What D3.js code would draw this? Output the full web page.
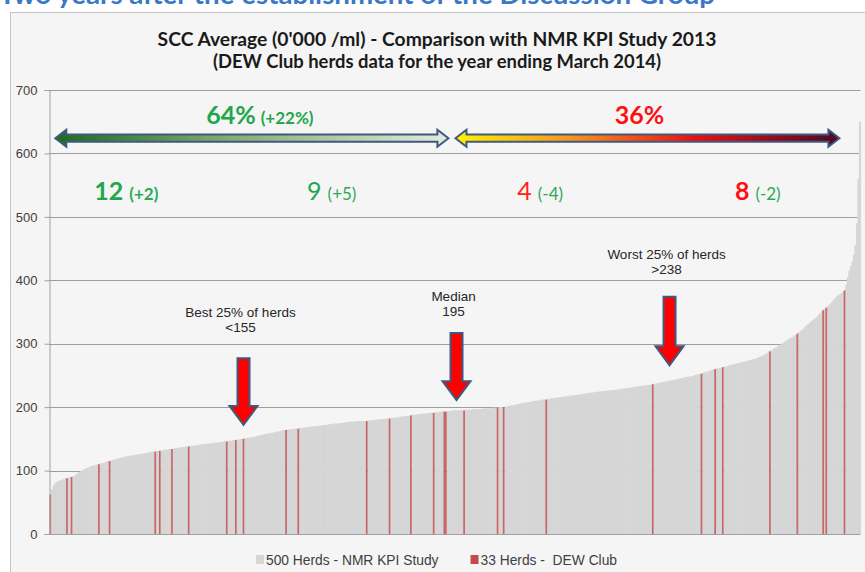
<!DOCTYPE html>
<html>
<head>
<meta charset="utf-8">
<script src="https://cdn.jsdelivr.net/npm/d3@7"></script>
<style>
  html, body { margin: 0; padding: 0; background: #ffffff; }
  svg { display: block; }
</style>
</head>
<body>
<svg id="chart" width="865" height="572"></svg>
<script>
// SCC averages (0'000 /ml) of the 500 NMR KPI study herds, sorted ascending
const nmrHerds = [
  70,76,80,82,83,84,85,86,87,88,89,90,91,92,94,96,98,99,100,102,
  103,104,105,106,107,108,108,109,110,111,112,112,113,114,115,116,117,117,118,119,
  119,120,121,121,122,122,123,123,124,124,124,125,125,126,126,126,127,127,128,128,
  129,129,130,130,131,131,132,132,133,133,133,134,134,135,135,135,136,136,137,137,
  137,138,138,139,139,139,140,140,140,141,141,141,142,142,142,142,143,143,143,144,
  144,144,145,145,145,146,146,147,147,147,148,148,149,149,150,150,151,151,152,152,
  152,153,153,154,155,155,156,156,157,157,158,158,159,159,160,160,161,161,162,162,
  163,164,164,165,165,165,165,166,166,166,167,167,167,168,168,168,169,169,169,170,
  170,170,170,171,171,171,172,172,172,173,173,173,174,174,174,174,175,175,175,176,
  176,176,177,177,177,177,177,178,178,178,178,178,178,178,179,179,179,179,180,180,
  180,181,181,181,181,182,182,182,183,183,183,184,184,184,185,185,185,186,186,186,
  187,188,188,188,189,189,189,189,190,190,190,190,191,191,191,192,192,192,193,193,
  193,194,194,194,194,195,195,195,195,195,195,195,196,196,196,196,196,197,197,197,
  197,197,197,198,198,198,198,198,198,199,199,199,199,200,200,200,201,201,202,202,
  203,203,204,204,205,205,206,206,207,207,207,208,208,209,209,210,210,210,211,211,
  212,212,212,213,213,214,214,214,215,215,215,216,216,216,217,217,217,218,218,218,
  219,219,219,220,220,220,221,221,222,222,222,223,223,223,224,224,224,225,225,225,
  225,226,226,226,226,227,227,227,227,228,228,229,229,229,230,230,230,231,231,232,
  232,232,233,233,233,234,234,234,235,235,235,236,237,237,238,238,239,239,240,240,
  241,241,242,242,243,243,244,244,245,245,246,246,247,247,248,248,249,249,250,251,
  251,252,252,254,255,255,256,257,258,259,260,261,261,262,262,264,264,265,266,266,
  267,267,268,269,269,270,271,271,272,272,273,274,274,275,276,276,277,278,279,280,
  281,282,284,285,288,290,291,293,294,296,297,299,300,302,304,305,307,308,310,311,
  313,314,318,320,322,324,327,329,331,333,335,337,339,341,343,346,348,351,355,359,
  362,364,367,370,373,375,377,378,380,382,393,405,415,422,430,440,455,490,560,650
];

// SCC averages of the 33 DEW Club herds
const clubHerds = [
  62,88,90,110,115,130,131,134,138,146,148,150,
  164,166,178,182,187,191,193,193,195,
  199,200,212,236,
  253,260,263,288,316,353,357,384
];

const yTicks = [0, 100, 200, 300, 400, 500, 600, 700];

const titleLines = [
  { text: "SCC Average (0'000 /ml) - Comparison with NMR KPI Study 2013", size: 19.3 },
  { text: "(DEW Club herds data for the year ending March 2014)", size: 18.4 }
];

const legendItems = [
  { label: "500 Herds - NMR KPI Study", club: false },
  { label: "33 Herds -  DEW Club", club: true }
];

// quartile markers: rank in the combined list, arrow tail / tip and label height in SCC units
const markers = [
  { lines: ["Best 25% of herds", "<155"], rank: 127, tail: 277, tip: 172, label: 342 },
  { lines: ["Median", "195"], rank: 267, tail: 317, tip: 211, label: 368 },
  { lines: ["Worst 25% of herds", ">238"], rank: 407, tail: 374, tip: 266, label: 434 }
];

// share of club herds in the two halves, and counts per quartile (change vs previous year)
const halves = [
  { pct: "64%", change: "(+22%)", from: 2, to: 261, colour: "#22a64c", grad: "gGreen" },
  { pct: "36%", change: "", from: 265, to: 518, colour: "#ff1010", grad: "gHeat" }
];
const quartiles = [
  { count: "12", change: "(+2)", rank: 50, countColour: "#22a64c", bold: true },
  { count: "9", change: "(+5)", rank: 185, countColour: "#22a64c", bold: false },
  { count: "4", change: "(-4)", rank: 322, countColour: "#ff2020", bold: false },
  { count: "8", change: "(-2)", rank: 465, countColour: "#ff1010", bold: true }
];

const svg = d3.select("#chart");

// heading of the page, running above the chart frame
svg.append("text")
  .attr("x", -1).attr("y", 4)
  .attr("font-family", "Lato, 'Open Sans', sans-serif")
  .attr("font-weight", "bold")
  .attr("font-size", 26)
  .attr("textLength", 716)
  .attr("lengthAdjust", "spacingAndGlyphs")
  .attr("fill", "#3b78c6")
  .text("Two years after the establishment of the Discussion Group");

// chart frame
svg.append("rect")
  .attr("x", 10.5).attr("y", 12.5)
  .attr("width", 870).attr("height", 570)
  .attr("fill", "#f5f5f5")
  .attr("stroke", "#c4c4c4");

// combined ranking of both herd groups
const herds = nmrHerds.map(v => ({ v, club: false }))
  .concat(clubHerds.map(v => ({ v, club: true })))
  .sort((a, b) => a.v - b.v)
  .map((d, i) => ({ ...d, i }));

const x = d3.scaleBand()
  .domain(d3.range(herds.length))
  .range([49.5, 860.5])
  .padding(0);

const y = d3.scaleLinear().domain([0, 700]).range([534, 90]);

const xr = i => x(i) + x.bandwidth() / 2;

// gridlines
svg.append("g")
  .selectAll("line")
  .data(yTicks.slice(1))
  .join("line")
  .attr("x1", 49).attr("x2", 860.5)
  .attr("y1", d => Math.round(y(d)) + 0.5)
  .attr("y2", d => Math.round(y(d)) + 0.5)
  .attr("stroke", "#9d9d9d")
  .attr("stroke-width", 1.2);

// bars
svg.append("g")
  .selectAll("rect")
  .data(herds.filter(d => !d.club))
  .join("rect")
  .attr("x", d => x(d.i))
  .attr("width", x.bandwidth() + 0.6)
  .attr("y", d => y(d.v))
  .attr("height", d => y(0) - y(d.v))
  .attr("fill", "#d6d6d6");

svg.append("g")
  .selectAll("rect")
  .data(herds.filter(d => d.club))
  .join("rect")
  .attr("x", d => x(d.i) - 0.1)
  .attr("width", x.bandwidth() + 0.2)
  .attr("y", d => y(d.v))
  .attr("height", d => y(0) - y(d.v))
  .attr("fill", "#c24a4a")
  .attr("opacity", 0.82);

// y axis
const yAxis = d3.axisLeft(y).tickValues(yTicks).tickSize(5).tickPadding(7);
const ya = svg.append("g").attr("transform", "translate(49.5,0)").call(yAxis);
ya.select(".domain").attr("stroke", "#a0a0a0");
ya.selectAll(".tick line").attr("stroke", "#a0a0a0");
ya.selectAll(".tick text")
  .attr("font-family", "'Liberation Sans', Arial, sans-serif")
  .attr("font-size", 13)
  .attr("fill", "#404040");

// x axis baseline
svg.append("line")
  .attr("x1", 49).attr("x2", 860.5)
  .attr("y1", y(0) + 0.5).attr("y2", y(0) + 0.5)
  .attr("stroke", "#a0a0a0");

// chart title
svg.append("g")
  .selectAll("text")
  .data(titleLines)
  .join("text")
  .attr("x", 437)
  .attr("y", (d, i) => 46 + i * 22)
  .attr("text-anchor", "middle")
  .attr("font-family", "Lato, 'Open Sans', sans-serif")
  .attr("font-weight", "bold")
  .attr("font-size", d => d.size)
  .attr("fill", "#1a1a1a")
  .text(d => d.text);

// gradients for the two range arrows
const defs = svg.append("defs");
const gGreen = defs.append("linearGradient").attr("id", "gGreen");
[[0, "#1c6a20"], [0.45, "#86ad73"], [1, "#e4ebdc"]].forEach(([o, c]) =>
  gGreen.append("stop").attr("offset", o).attr("stop-color", c));
const gHeat = defs.append("linearGradient").attr("id", "gHeat");
[[0, "#fff200"], [0.3, "#f7941d"], [0.62, "#ee1010"], [1, "#4a0a22"]].forEach(([o, c]) =>
  gHeat.append("stop").attr("offset", o).attr("stop-color", c));

function doubleArrow(x0, x1, cy) {
  const h = 3.6, H2 = 8.5, L = 11;
  return `M${x0},${cy} L${x0 + L},${cy - H2} L${x0 + L},${cy - h} L${x1 - L},${cy - h}` +
    ` L${x1 - L},${cy - H2} L${x1},${cy} L${x1 - L},${cy + H2} L${x1 - L},${cy + h}` +
    ` L${x0 + L},${cy + h} L${x0 + L},${cy + H2} Z`;
}

const arrowY = y(624);
halves.forEach(hf => {
  const x0 = xr(hf.from) + 2, x1 = xr(hf.to) + 1;
  svg.append("path")
    .attr("d", doubleArrow(x0, x1, arrowY))
    .attr("fill", `url(#${hf.grad})`)
    .attr("stroke", "#3f5a80")
    .attr("stroke-width", 2)
    .attr("stroke-linejoin", "miter");
  const t = svg.append("text")
    .attr("x", (x0 + x1) / 2 + (hf.change ? 8 : -8))
    .attr("y", y(646))
    .attr("text-anchor", "middle")
    .attr("font-family", "Lato, 'Open Sans', sans-serif")
    .attr("font-weight", "bold")
    .attr("fill", hf.colour);
  t.append("tspan").attr("font-size", 25).text(hf.pct);
  if (hf.change) t.append("tspan").attr("font-size", 17).attr("dx", 5).text(hf.change);
});

// club herd counts per quartile
quartiles.forEach(q => {
  const t = svg.append("text")
    .attr("x", xr(q.rank))
    .attr("y", y(526))
    .attr("text-anchor", "middle")
    .attr("font-family", "Lato, 'Open Sans', sans-serif");
  t.append("tspan")
    .attr("font-size", 25)
    .attr("font-weight", q.bold ? "bold" : "normal")
    .attr("fill", q.countColour)
    .text(q.count);
  t.append("tspan")
    .attr("dx", 6)
    .attr("font-size", 17)
    .attr("font-weight", q.bold && q.count === "12" ? "bold" : "normal")
    .attr("fill", "#2aaa55")
    .text(q.change);
});

// quartile markers
function downArrow(cx, yTail, yTip) {
  const s = 6, hw = 14, hh = 19;
  const yh = yTip - hh;
  return `M${cx - s},${yTail} L${cx + s},${yTail} L${cx + s},${yh} L${cx + hw},${yh}` +
    ` L${cx},${yTip} L${cx - hw},${yh} L${cx - s},${yh} Z`;
}
markers.forEach(m => {
  const cx = xr(m.rank);
  svg.append("path")
    .attr("d", downArrow(cx, y(m.tail), y(m.tip)))
    .attr("fill", "#ff0000")
    .attr("stroke", "#3f5a80")
    .attr("stroke-width", 2)
    .attr("stroke-linejoin", "miter");
  svg.append("g")
    .selectAll("text")
    .data(m.lines)
    .join("text")
    .attr("x", cx - 3)
    .attr("y", (d, i) => y(m.label) + i * 15)
    .attr("text-anchor", "middle")
    .attr("font-family", "'Liberation Sans', Arial, sans-serif")
    .attr("font-size", 13.5)
    .attr("fill", "#262626")
    .text(d => d);
});

// legend
const lg = svg.append("g").attr("transform", "translate(256,560)");
let lx = 0;
legendItems.forEach(item => {
  const g = lg.append("g").attr("transform", `translate(${lx},0)`);
  g.append("rect")
    .attr("x", 0).attr("y", -5)
    .attr("width", 8).attr("height", 9)
    .attr("fill", item.club ? "#c24a4a" : "#d6d6d6");
  const t = g.append("text")
    .attr("x", 10).attr("y", 4.5)
    .attr("font-family", "'Liberation Sans', Arial, sans-serif")
    .attr("font-size", 13.8)
    .attr("fill", "#404040")
    .attr("xml:space", "preserve")
    .style("white-space", "pre")
    .text(item.label);
  lx += 10 + t.node().getComputedTextLength() + 32;
});
</script>
</body>
</html>
